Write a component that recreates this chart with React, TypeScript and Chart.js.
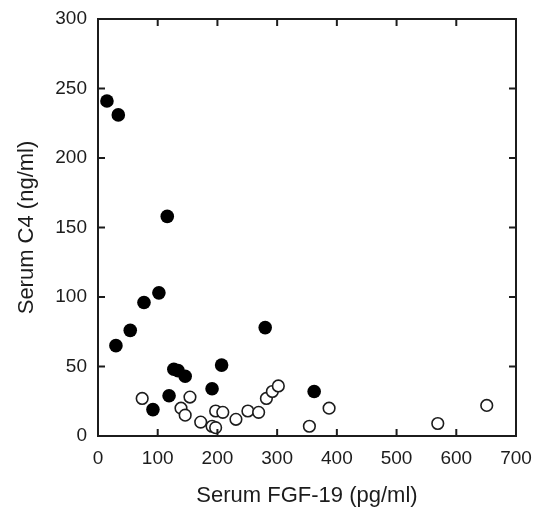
import React, { useEffect, useRef } from "react";
import { Chart, registerables } from "chart.js";

Chart.register(...registerables);

const xTicks = [0, 100, 200, 300, 400, 500, 600, 700];
const yTicks = [0, 50, 100, 150, 200, 250, 300];

const filledX = [15, 34, 116, 102, 77, 54, 30, 127, 134, 146, 207, 280, 191, 119, 92, 362];
const filledY = [241, 231, 158, 103, 96, 76, 65, 48, 47, 43, 51, 78, 34, 29, 19, 32];

const openX = [74, 154, 139, 146, 172, 191, 197, 197, 209, 231, 251, 269, 282, 292, 302, 354, 387, 569, 651];
const openY = [27, 28, 20, 15, 10, 7, 6, 18, 17, 12, 18, 17, 27, 32, 36, 7, 20, 9, 22];

const xTitle = "Serum FGF-19 (pg/ml)";
const yTitle = "Serum C4 (ng/ml)";

const FONT = "'Liberation Sans', Arial, Helvetica, sans-serif";
const INK = "#1c1c1c";

const framePlugin = {
  id: "frameTicks",
  afterDatasetsDraw(chart: any) {
    const { ctx, chartArea, scales } = chart;
    const { left, right, top, bottom } = chartArea;
    const len = 7;
    ctx.save();
    ctx.strokeStyle = INK;
    ctx.lineWidth = 2;
    ctx.strokeRect(left, top, right - left, bottom - top);
    ctx.beginPath();
    for (const v of xTicks) {
      const px = scales.x.getPixelForValue(v);
      ctx.moveTo(px, bottom);
      ctx.lineTo(px, bottom - len);
      ctx.moveTo(px, top);
      ctx.lineTo(px, top + len);
    }
    for (const v of yTicks) {
      const py = scales.y.getPixelForValue(v);
      ctx.moveTo(left, py);
      ctx.lineTo(left + len, py);
      ctx.moveTo(right, py);
      ctx.lineTo(right - len, py);
    }
    ctx.stroke();
    ctx.restore();
  },
};

export default function App() {
  const ref = useRef<HTMLCanvasElement | null>(null);
  useEffect(() => {
    if (!ref.current) return;
    const chart = new Chart(ref.current, {
      type: "scatter",
      data: {
        datasets: [
          {
            label: "open",
            data: openX.map((x, i) => ({ x, y: openY[i] })),
            pointRadius: 5.8,
            pointBackgroundColor: "#ffffff",
            pointBorderColor: INK,
            pointBorderWidth: 1.6,
          },
          {
            label: "filled",
            data: filledX.map((x, i) => ({ x, y: filledY[i] })),
            pointRadius: 6.8,
            pointBackgroundColor: "#000000",
            pointBorderColor: "#000000",
            pointBorderWidth: 0,
          },
        ],
      },
      options: {
        animation: false,
        responsive: false,
        maintainAspectRatio: false,
        layout: { padding: { top: 19, right: 19, left: 0, bottom: 0 } },
        plugins: { legend: { display: false }, tooltip: { enabled: false } },
        scales: {
          x: {
            type: "linear",
            min: 0,
            max: 700,
            afterBuildTicks: (s: any) => {
              s.ticks = xTicks.map((v) => ({ value: v }));
            },
            afterFit: (s: any) => {
              s.height = 83;
              s.paddingLeft = 0;
              s.paddingRight = 0;
            },
            grid: { display: false, drawTicks: false },
            border: { display: false },
            ticks: {
              padding: 11,
              color: INK,
              font: { family: FONT, size: 19 },
              maxRotation: 0,
            },
            title: {
              display: true,
              text: xTitle,
              color: INK,
              font: { family: FONT, size: 22 },
              padding: { top: 0, bottom: 10 },
            },
          },
          y: {
            type: "linear",
            min: 0,
            max: 300,
            afterBuildTicks: (s: any) => {
              s.ticks = yTicks.map((v) => ({ value: v }));
            },
            afterFit: (s: any) => {
              s.width = 98;
              s.paddingTop = 0;
              s.paddingBottom = 0;
            },
            grid: { display: false, drawTicks: false },
            border: { display: false },
            ticks: {
              padding: 11,
              color: INK,
              font: { family: FONT, size: 19 },
            },
            title: {
              display: true,
              text: yTitle,
              color: INK,
              font: { family: FONT, size: 22 },
              padding: { top: 14, bottom: 0 },
            },
          },
        },
      },
      plugins: [framePlugin],
    });
    return () => chart.destroy();
  }, []);
  return (
    <div style={{ position: "fixed", left: 0, top: 0, width: 535, height: 519, background: "#fff" }}>
      <canvas ref={ref} width={535} height={519} style={{ width: 535, height: 519, display: "block" }} />
    </div>
  );
}
